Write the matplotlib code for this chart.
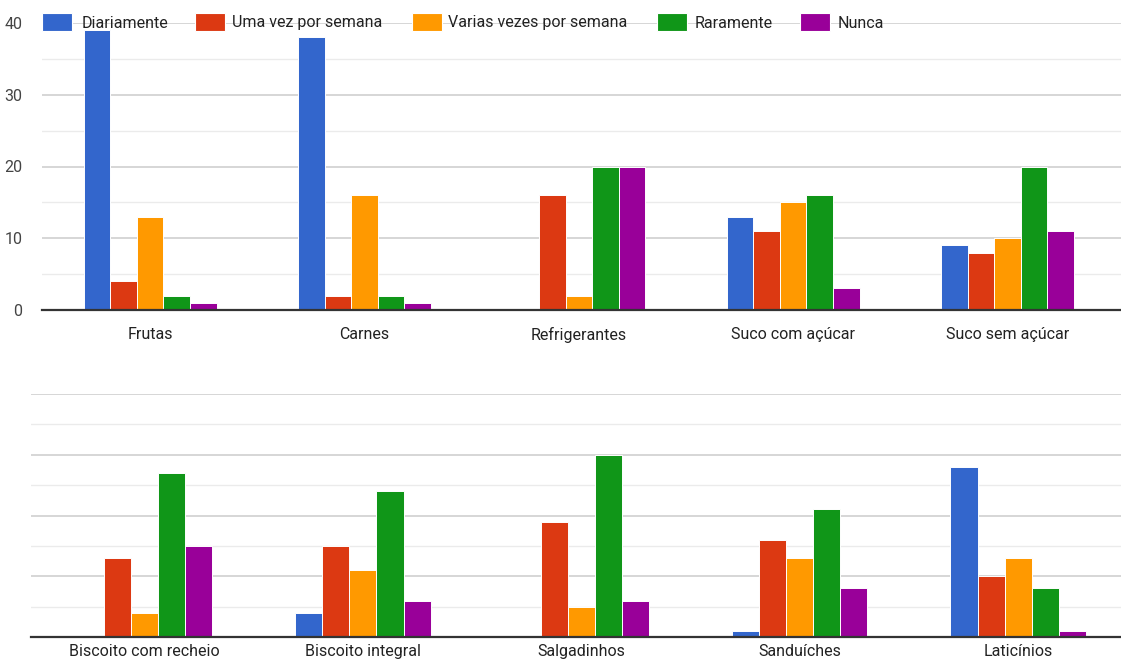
import numpy as np
import matplotlib
matplotlib.use("Agg")
import matplotlib.pyplot as plt
from matplotlib.patches import Rectangle
from matplotlib.ticker import MultipleLocator

plt.rcParams['font.family'] = ['Roboto', 'DejaVu Sans']

# ---- data ----
series = ["Diariamente", "Uma vez por semana", "Varias vezes por semana", "Raramente", "Nunca"]
colors = ["#3366CC", "#DC3912", "#FF9900", "#109618", "#990099"]

cats_top = ["Frutas", "Carnes", "Refrigerantes", "Suco com açúcar", "Suco sem açúcar"]
top_diariamente = [39, 38, 0, 13, 9]
top_uma_vez = [4, 2, 16, 11, 8]
top_varias = [13, 16, 2, 15, 10]
top_raramente = [2, 2, 20, 16, 20]
top_nunca = [1, 1, 20, 3, 11]

cats_bottom = ["Biscoito com recheio", "Biscoito integral", "Salgadinhos", "Sanduíches", "Laticínios"]
bot_diariamente = [0, 4, 0, 1, 28]
bot_uma_vez = [13, 15, 19, 16, 10]
bot_varias = [4, 11, 5, 13, 13]
bot_raramente = [27, 24, 30, 21, 8]
bot_nunca = [15, 6, 6, 8, 1]

y_ticks = [0, 10, 20, 30, 40]

top_vals = [top_diariamente, top_uma_vez, top_varias, top_raramente, top_nunca]
bot_vals = [bot_diariamente, bot_uma_vez, bot_varias, bot_raramente, bot_nunca]

# ---- layout ----
W, H = 1121, 663
fig = plt.figure(figsize=(W / 100, H / 100), dpi=100)


def rect(l, t, r, b):
    return [l / W, 1 - b / H, (r - l) / W, (b - t) / H]


ax1 = fig.add_axes(rect(42, 23, 1121, 310))
ax2 = fig.add_axes(rect(31, 394, 1121, 637))

FS = 11.5
bw = 0.124


def draw(ax, cats, vals, xlim, show_y, xpad):
    x = np.arange(len(cats))
    for j, (v, c) in enumerate(zip(vals, colors)):
        ax.bar(x + (j - 2) * bw, v, bw, color=c, edgecolor="white",
               linewidth=0.7, zorder=2)
    ax.set_xlim(*xlim)
    ax.set_ylim(0, 40)
    ax.set_yticks(y_ticks)
    ax.yaxis.set_minor_locator(MultipleLocator(5))
    ax.grid(True, which="major", axis="y", color="#cccccc", lw=1.1, zorder=0)
    ax.grid(True, which="minor", axis="y", color="#ebebeb", lw=1.0, zorder=0)
    ax.set_axisbelow(True)
    for s in ax.spines.values():
        s.set_visible(False)
    ax.axhline(0, color="#333333", lw=1.6, zorder=3, clip_on=False)
    ax.set_xticks(x)
    ax.set_xticklabels(cats, fontsize=FS, color="#222222")
    ax.tick_params(axis="x", length=0, pad=xpad)
    ax.tick_params(axis="y", which="both", length=0, pad=14,
                   labelsize=FS, labelcolor="#444444")
    if not show_y:
        ax.set_yticklabels([])


draw(ax1, cats_top, top_vals, (-0.504, 4.529), True, 12)
draw(ax2, cats_bottom, bot_vals, (-0.52, 4.471), False, 5)

# ---- legend (on top gridline) ----
sw_x = [42, 195, 412, 657, 800]
txt_x = [82, 232, 448, 695, 838]
for name, c, sx, tx in zip(series, colors, sw_x, txt_x):
    fig.patches.append(Rectangle((sx / W, 1 - 31 / H), 30 / W, 18 / H,
                                 transform=fig.transFigure, facecolor=c,
                                 edgecolor="white", linewidth=0.8, zorder=5))
    fig.text(tx / W, 1 - 23 / H, name, fontsize=FS, color="#222222",
             ha="left", va="center", zorder=6)

fig.savefig("out.png", dpi=100)
